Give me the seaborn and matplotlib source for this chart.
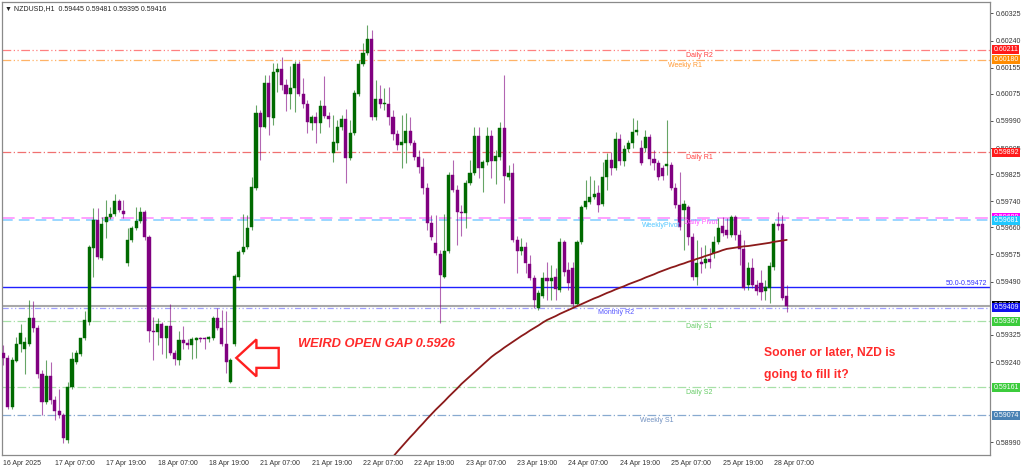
import numpy as np
import matplotlib
matplotlib.use("Agg")
import matplotlib.pyplot as plt
import matplotlib.transforms as mtransforms
from matplotlib.patches import FancyArrow
import seaborn as sns

# ---------------- data (prices in 1e-5 units, NZDUSD H1) ----------------
open_pts = [
    59268, 59253, 59100, 59243, 59296, 59281, 59296, 59377, 59346, 59203,
    59116, 59197, 59122, 59088, 59075, 58998, 59162, 59240, 59265, 59315,
    59365, 59595, 59682, 59564, 59676, 59691, 59700, 59741, 59710, 59548,
    59620, 59657, 59679, 59707, 59629, 59337, 59334, 59358, 59315, 59352,
    59268, 59247, 59309, 59299, 59293, 59309, 59315, 59315, 59312, 59315,
    59377, 59346, 59296, 59178, 59296, 59505, 59582, 59598, 59660, 59781,
    60015, 59971, 60108, 59999, 60142, 60151, 60102, 60074, 60092, 60167,
    60074, 60043, 59983, 60002, 59983, 60036, 60005, 59890, 59921, 59971,
    59996, 59875, 59952, 60074, 60167, 60201, 60245, 60002, 60058, 60043,
    60043, 60002, 59949, 59915, 59921, 59959, 59921, 59878, 59847, 59781,
    59673, 59610, 59576, 59505, 59585, 59822, 59775, 59707, 59704, 59797,
    59828, 59943, 59844, 59862, 59943, 59865, 59878, 59968, 59816, 59828,
    59620, 59585, 59598, 59545, 59501, 59408, 59445, 59501, 59492, 59505,
    59464, 59613, 59526, 59533, 59421, 59613, 59722, 59738, 59753, 59766,
    59732, 59816, 59868, 59844, 59934, 59865, 59903, 59921, 59956, 59906,
    59906, 59940, 59872, 59859, 59844, 59850, 59853, 59781, 59729, 59713,
    59722, 59629, 59505, 59551, 59548, 59560, 59579, 59613, 59663, 59651,
    59635, 59691, 59635, 59592, 59480, 59533, 59480, 59486, 59461, 59470,
    59536, 59669, 59669, 59445]
high_pts = [
    59293, 59262, 59256, 59318, 59358, 59318, 59433, 59430, 59355, 59215,
    59247, 59240, 59134, 59156, 59082, 59178, 59271, 59278, 59293, 59399,
    59604, 59719, 59719, 59691, 59744, 59722, 59763, 59747, 59744, 59657,
    59663, 59722, 59722, 59713, 59635, 59380, 59377, 59365, 59340, 59421,
    59278, 59337, 59352, 59312, 59318, 59318, 59318, 59318, 59321, 59383,
    59408, 59402, 59399, 59253, 59514, 59588, 59700, 59697, 59816, 60039,
    60024, 60133, 60133, 60170, 60170, 60189, 60120, 60161, 60176, 60176,
    60123, 60055, 60008, 60018, 60055, 60130, 60018, 60008, 59993, 60008,
    60027, 59993, 60086, 60179, 60232, 60288, 60273, 60117, 60102, 60092,
    60095, 60024, 59962, 60008, 60015, 60002, 59931, 59900, 59875, 59797,
    59697, 59697, 59588, 59700, 59831, 59868, 59791, 59729, 59806, 59868,
    59971, 59971, 59868, 59971, 59962, 59900, 59987, 60133, 59853, 59859,
    59632, 59626, 59613, 59573, 59511, 59464, 59520, 59551, 59542, 59533,
    59626, 59620, 59551, 59551, 59620, 59729, 59806, 59819, 59806, 59791,
    59862, 59890, 59893, 59956, 59949, 59915, 59931, 59999, 59993, 59931,
    59962, 59949, 59900, 59868, 59853, 59993, 59862, 59797, 59831, 59744,
    59729, 59641, 59620, 59598, 59604, 59595, 59632, 59688, 59691, 59688,
    59697, 59697, 59651, 59620, 59551, 59564, 59495, 59526, 59495, 59551,
    59676, 59707, 59697, 59481]
low_pts = [
    59231, 59094, 59094, 59240, 59271, 59203, 59290, 59334, 59190, 59075,
    59110, 59110, 59060, 59066, 58988, 58988, 59156, 59234, 59259, 59309,
    59355, 59505, 59560, 59557, 59626, 59685, 59694, 59707, 59688, 59539,
    59613, 59651, 59673, 59620, 59302, 59247, 59293, 59265, 59253, 59262,
    59231, 59231, 59281, 59281, 59250, 59253, 59302, 59281, 59302, 59309,
    59340, 59290, 59206, 59175, 59290, 59495, 59576, 59592, 59651, 59775,
    59868, 59968, 59946, 59977, 60080, 60086, 60021, 60027, 60018, 60067,
    60030, 59952, 59962, 59921, 59952, 59999, 59971, 59862, 59900, 59962,
    59797, 59868, 59946, 60067, 60161, 60195, 59993, 59993, 60030, 60024,
    59977, 59931, 59900, 59844, 59859, 59915, 59868, 59828, 59763, 59651,
    59620, 59573, 59361, 59501, 59579, 59769, 59604, 59632, 59657, 59791,
    59822, 59812, 59769, 59853, 59812, 59794, 59868, 59735, 59806, 59613,
    59517, 59573, 59517, 59495, 59408, 59402, 59439, 59433, 59433, 59433,
    59458, 59508, 59464, 59411, 59414, 59607, 59716, 59732, 59747, 59707,
    59725, 59775, 59822, 59837, 59853, 59850, 59893, 59906, 59946, 59853,
    59893, 59853, 59837, 59806, 59806, 59822, 59775, 59719, 59651, 59588,
    59604, 59495, 59480, 59517, 59533, 59533, 59564, 59607, 59632, 59626,
    59629, 59620, 59542, 59464, 59464, 59470, 59449, 59433, 59433, 59424,
    59526, 59651, 59433, 59395]
close_pts = [
    59253, 59100, 59246, 59296, 59330, 59302, 59377, 59346, 59203, 59116,
    59197, 59122, 59088, 59075, 59004, 59162, 59250, 59268, 59315, 59371,
    59598, 59682, 59567, 59669, 59691, 59700, 59741, 59713, 59700, 59620,
    59657, 59679, 59707, 59629, 59337, 59334, 59358, 59315, 59352, 59268,
    59250, 59309, 59299, 59293, 59312, 59315, 59312, 59312, 59318, 59377,
    59346, 59296, 59240, 59247, 59508, 59582, 59598, 59657, 59784, 60015,
    59971, 60108, 60002, 60142, 60151, 60102, 60074, 60092, 60167, 60074,
    60043, 59987, 60002, 59983, 60036, 60005, 59996, 59924, 59971, 59996,
    59875, 59952, 60077, 60167, 60201, 60245, 60002, 60058, 60043, 60046,
    60002, 59949, 59915, 59924, 59959, 59921, 59878, 59847, 59781, 59673,
    59629, 59579, 59511, 59585, 59822, 59775, 59707, 59704, 59797, 59828,
    59943, 59844, 59862, 59943, 59865, 59881, 59968, 59819, 59828, 59620,
    59585, 59598, 59548, 59501, 59433, 59455, 59501, 59492, 59501, 59467,
    59613, 59520, 59486, 59421, 59613, 59722, 59741, 59753, 59763, 59729,
    59816, 59868, 59844, 59934, 59865, 59903, 59921, 59956, 59962, 59859,
    59940, 59872, 59859, 59816, 59819, 59856, 59781, 59729, 59660, 59732,
    59629, 59505, 59548, 59545, 59560, 59551, 59613, 59657, 59641, 59635,
    59691, 59635, 59592, 59470, 59533, 59480, 59461, 59458, 59473, 59539,
    59669, 59663, 59439, 59416]

# moving average (brown line), from bar 90 to the last bar
ma_start = 90
ma_pts = [
    58929, 58945, 58961, 58976, 58991, 59006, 59020, 59035, 59049, 59064,
    59078, 59092, 59105, 59118, 59132, 59145, 59158, 59172, 59184, 59196,
    59208, 59220, 59232, 59244, 59256, 59266, 59275, 59285, 59294, 59303,
    59312, 59321, 59329, 59338, 59346, 59354, 59363, 59371, 59377, 59383,
    59390, 59396, 59402, 59408, 59414, 59420, 59426, 59432, 59438, 59443,
    59449, 59455, 59460, 59466, 59471, 59476, 59482, 59487, 59492, 59497,
    59503, 59508, 59513, 59519, 59524, 59529, 59534, 59538, 59543, 59547,
    59552, 59556, 59561, 59565, 59570, 59574, 59579, 59583, 59588, 59592,
    59594, 59596, 59598, 59600, 59601, 59603, 59605, 59607, 59609, 59611,
    59614, 59616, 59618, 59620]

# x-axis labels every 12 bars
xtick_bars = [0, 12, 24, 36, 48, 60, 72, 84, 96, 108, 120, 132, 144, 156, 168, 180]
xtick_labels = ["16 Apr 2025", "17 Apr 07:00", "17 Apr 19:00", "18 Apr 07:00",
                "18 Apr 19:00", "21 Apr 07:00", "21 Apr 19:00", "22 Apr 07:00",
                "22 Apr 19:00", "23 Apr 07:00", "23 Apr 19:00", "24 Apr 07:00",
                "24 Apr 19:00", "25 Apr 07:00", "25 Apr 19:00", "28 Apr 07:00"]
# visible price-scale ticks (the ones hidden behind level boxes are left out)
ytick_vals = [0.58990, 0.59240, 0.59325, 0.59490,
              0.59575, 0.59660, 0.59740, 0.59825, 0.59905, 0.59990, 0.60075,
              0.60155, 0.60240, 0.60325]

# pivot / level lines
level_names = ["Daily R2", "Weekly R1", "Daily R1", "Daily Pivot", "WeeklyPivot",
               "50.0", "Monthly R2", "Daily S1", "Daily S2", "Weekly S1"]
level_vals = [0.60211, 0.60180, 0.59892, 0.59689, 0.59681,
              0.59472, 0.59409, 0.59367, 0.59161, 0.59074]
level_colors = ["#ff8080", "#ffb366", "#f07070", "#ff99ff", "#80ccff",
                "#2020ff", "#a0a0ff", "#a8e0a8", "#a8e0a8", "#88aad0"]
level_text_colors = ["#ff4040", "#ff9933", "#ff4040", "#ff55ff", "#55c8ff",
                     "#3333ff", "#5555ff", "#66cc66", "#66cc66", "#7090c0"]
level_label_bar = [162.6, 159.3, 162.6, 162.8, 153.6, None, 143.2, 162.6, 162.6, 152.6]
box_vals = [0.60211, 0.60180, 0.59892, 0.59689, 0.59681, 0.59416, 0.59409,
            0.59367, 0.59161, 0.59074]
box_colors = ["#ff1a1a", "#ff8c00", "#ff1a1a", "#ff00ff", "#1ec8ff", "#000000",
              "#1010ee", "#3ccc3c", "#3ccc3c", "#4a82b4"]

gap_bar = 53

# ---------------- figure ----------------
sns.set_style("white")
plt.rcParams["font.family"] = ["Liberation Sans", "DejaVu Sans"]

fig = plt.figure(figsize=(10.24, 4.67), dpi=100)
ax = fig.add_axes([2 / 1024, 12 / 467, 988 / 1024, 453 / 467])

P = 1e-5
o = np.array(open_pts) * P
h = np.array(high_pts) * P
l = np.array(low_pts) * P
c = np.array(close_pts) * P
idx = np.arange(len(o))
bull, bear = "#006a00", "#800080"
cols = np.where(c >= o, bull, bear)

# level lines
styles = [(0, (7, 2, 1, 2, 1, 2)), (0, (7, 2, 1, 2, 1, 2)), (0, (7, 2, 1, 2)),
          (0, (7, 4)), (0, (7, 4)), "-", (0, (5, 2, 1, 2, 1, 2)),
          (0, (7, 2, 1, 2)), (0, (7, 2, 1, 2)), (0, (7, 2, 1, 2))]
widths = [0.9, 0.9, 0.9, 1.3, 1.1, 1.0, 0.9, 0.9, 0.9, 0.9]
for v, col, ls, lw in zip(level_vals, level_colors, styles, widths):
    ax.axhline(v, color=col, ls=ls, lw=lw, zorder=2)
# current price line
ax.axhline(c[-1], color="#a8a8a8", lw=1.5, zorder=1.9)

# candles
ax.vlines(idx, l, h, colors=cols, lw=0.8, alpha=0.6, zorder=3)
ax.bar(idx, np.maximum(np.abs(c - o), 2.5e-5), bottom=np.minimum(o, c), width=0.72,
       color=cols, edgecolor=cols, linewidth=0.3, zorder=4)

# moving average
ma_x = np.arange(ma_start, ma_start + len(ma_pts))
sns.lineplot(x=ma_x, y=np.array(ma_pts) * P, ax=ax, color="#8b1a1a", lw=1.3,
             zorder=5, legend=False)

ax.set_xlim(-0.35, 230.5)
ax.set_ylim(0.58951, 0.60360)

# axes / ticks
for s in ax.spines.values():
    s.set_color("#8a8a8a")
    s.set_linewidth(0.9)
ax.yaxis.tick_right()
ax.set_yticks(ytick_vals)
ax.set_yticklabels([f"{v:.5f}" for v in ytick_vals])
ax.tick_params(axis="y", length=2.5, width=0.6, pad=1.5, labelsize=5,
               colors="#333333")
ax.set_xticks(xtick_bars)
ax.set_xticklabels(xtick_labels)
ax.tick_params(axis="x", length=2.5, width=0.6, pad=1, labelsize=5,
               colors="#333333")
for lab in ax.get_xticklabels():
    lab.set_ha("left")
ax.set_xlabel("")
ax.set_ylabel("")
ax.grid(False)

# level labels
for name, v, bar, tcol in zip(level_names, level_vals, level_label_bar, level_text_colors):
    if bar is None:
        continue
    ax.annotate(name, (bar, v), xytext=(0, -1.2), textcoords="offset points",
                ha="center", va="top", fontsize=5, color=tcol, zorder=6)
ax.annotate("50.0-0.59472", (1.0, level_vals[5]), xycoords=("axes fraction", "data"),
            xytext=(-2, 0.6), textcoords="offset points", ha="right", va="bottom",
            fontsize=5, color="#3333ff", zorder=6)

# price boxes on the right
trans = mtransforms.blended_transform_factory(ax.transAxes, ax.transData)
for v, col in zip(box_vals, box_colors):
    ax.text(1.0035, v, f"{v:.5f}", transform=trans, fontsize=5, color="white",
            ha="left", va="center", zorder=10, clip_on=False,
            bbox=dict(boxstyle="square,pad=0.15", fc=col, ec="none"))

# header
ax.text(0.003, 0.994,
        f"\u25bc NZDUSD,H1  {o[-1]:.5f} {h[-1]:.5f} {l[-1]:.5f} {c[-1]:.5f}",
        transform=ax.transAxes, fontsize=5, ha="left", va="top", color="#222222",
        zorder=10)

# gap annotation
arrow = FancyArrow(gap_bar + 11.3, c[gap_bar] + 0.00006, -9.9, 0,
                   width=0.00062, head_width=0.00115, head_length=4.7,
                   length_includes_head=True, fc="white", ec="#ff2020", lw=1.7,
                   zorder=7)
ax.add_patch(arrow)
ax.text(gap_bar + 15.9, c[gap_bar] + 0.00049, "WEIRD OPEN GAP 0.5926", fontsize=9.3,
        fontweight="bold", fontstyle="italic", color="#ff2a2a", ha="left",
        va="center", zorder=7)
ax.text(177.6, 0.59268, "Sooner or later, NZD is", fontsize=8.7, fontweight="bold",
        color="#ff2a2a", ha="left", va="center", zorder=7)
ax.text(177.6, 0.59200, "going to fill it?", fontsize=8.7, fontweight="bold",
        color="#ff2a2a", ha="left", va="center", zorder=7)

fig.savefig("out.png", dpi=100)
